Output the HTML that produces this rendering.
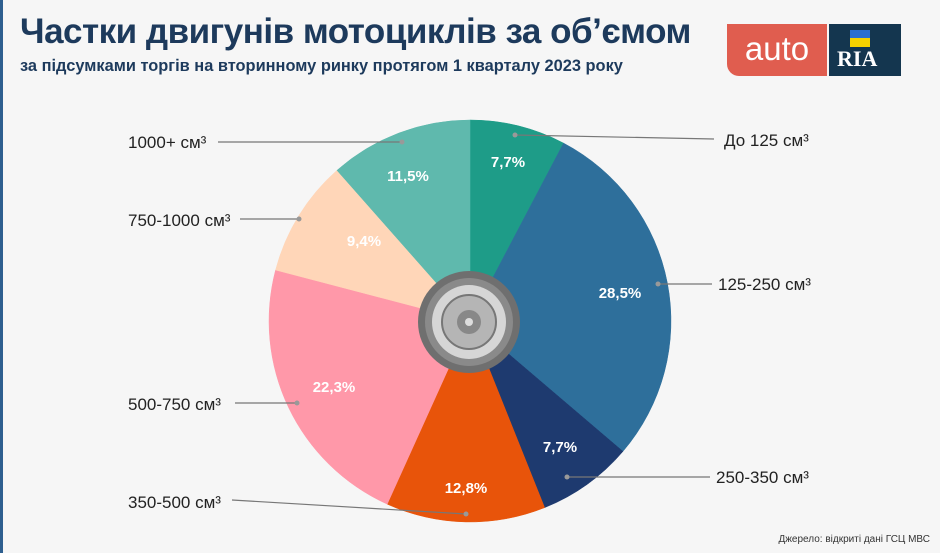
<!DOCTYPE html>
<html><head><meta charset="utf-8"><style>
body{margin:0;width:940px;height:553px;background:#f6f6f6;overflow:hidden;font-family:"Liberation Sans",sans-serif;position:relative}
.t{position:absolute;left:20px;top:12px;font-size:35px;font-weight:bold;color:#1d3a5c;letter-spacing:-0.5px;white-space:nowrap}
.s{position:absolute;left:20px;top:57px;font-size:16.4px;font-weight:bold;color:#1d3a5c;white-space:nowrap}
</style></head><body>
<div style="position:absolute;left:0;top:0;width:3px;height:553px;background:#2e5f8f"></div>
<div class="t">Частки двигунів мотоциклів за об’ємом</div>
<div class="s">за підсумками торгів на вторинному ринку протягом 1 кварталу 2023 року</div>
<div style="position:absolute;left:727px;top:24px;width:100px;height:52px;background:#e05d4f;border-radius:0 0 0 12px;color:#fff;font-size:33px;text-align:center;line-height:50px">auto</div>
<div style="position:absolute;left:829px;top:24px;width:72px;height:52px;background:#14364f">
<div style="position:absolute;left:21px;top:6px;width:20px;height:8px;background:#2b6fd0"></div>
<div style="position:absolute;left:21px;top:14px;width:20px;height:9px;background:#f5d200"></div>
<div style="position:absolute;left:8px;top:22px;font-family:'Liberation Serif',serif;font-weight:bold;font-size:22px;color:#fff">RIA</div></div>
<svg width="940" height="553" style="position:absolute;left:0;top:0" font-family="Liberation Sans, sans-serif">
<g id="w"></g>
<g fill="#fff" font-weight="bold" font-size="15" text-anchor="middle">
<text x="508" y="167">7,7%</text><text x="620" y="298">28,5%</text><text x="560" y="452">7,7%</text>
<text x="466" y="493">12,8%</text><text x="334" y="392">22,3%</text><text x="364" y="246">9,4%</text><text x="408" y="181">11,5%</text></g>
<g stroke="#777" stroke-width="1.2" fill="none">
<line x1="515" y1="135" x2="714" y2="139"/><line x1="658" y1="284" x2="712" y2="284"/>
<line x1="567" y1="477" x2="710" y2="477"/><line x1="232" y1="500" x2="466" y2="514"/>
<line x1="235" y1="403" x2="297" y2="403"/><line x1="240" y1="219" x2="299" y2="219"/>
<line x1="218" y1="142" x2="402" y2="142"/></g>
<g fill="#999"><circle cx="515" cy="135" r="2.5"/><circle cx="658" cy="284" r="2.5"/><circle cx="567" cy="477" r="2.5"/><circle cx="466" cy="514" r="2.5"/><circle cx="297" cy="403" r="2.5"/><circle cx="299" cy="219" r="2.5"/><circle cx="402" cy="142" r="2.5"/></g>
<g font-size="17" fill="#222">
<text x="724" y="146">До 125 см³</text><text x="718" y="290">125-250 см³</text><text x="716" y="483">250-350 см³</text>
<text x="128" y="508">350-500 см³</text><text x="128" y="410">500-750 см³</text><text x="128" y="226">750-1000 см³</text><text x="128" y="148">1000+ см³</text></g>
<g>
<circle cx="469" cy="322" r="51" fill="#6f6f6f"/>
<circle cx="469" cy="322" r="44" fill="#8a8a8a"/>
<circle cx="469" cy="322" r="37" fill="#d6d6d6"/>
<circle cx="469" cy="322" r="27" fill="#b5b5b5" stroke="#777" stroke-width="2"/>
<circle cx="469" cy="322" r="12" fill="#888"/>
<circle cx="469" cy="322" r="4" fill="#ddd"/>
</g>
<text x="930" y="542" font-size="10" fill="#333" text-anchor="end">Джерело: відкриті дані ГСЦ МВС</text>
</svg>
<script>
var v=[7.7,28.5,7.7,12.8,22.3,9.4,11.5],c=["#1e9c88","#2e6f9b","#1e3a6f","#e8540a","#ff98a9","#ffd6b8","#5fb9ad"];
var s=v.reduce((a,b)=>a+b),a=0,cx=470,cy=321,r=201,h="";
v.forEach(function(x,i){var b=a+x/s*2*Math.PI;
var x1=cx+r*Math.sin(a),y1=cy-r*Math.cos(a),x2=cx+r*Math.sin(b),y2=cy-r*Math.cos(b);
h+='<path d="M'+cx+' '+cy+'L'+x1+' '+y1+'A'+r+' '+r+' 0 '+(b-a>Math.PI?1:0)+' 1 '+x2+' '+y2+'Z" fill="'+c[i]+'" stroke="'+c[i]+'" stroke-width="0.5"/>';a=b;});
document.getElementById("w").innerHTML=h;
</script>
</body></html>
